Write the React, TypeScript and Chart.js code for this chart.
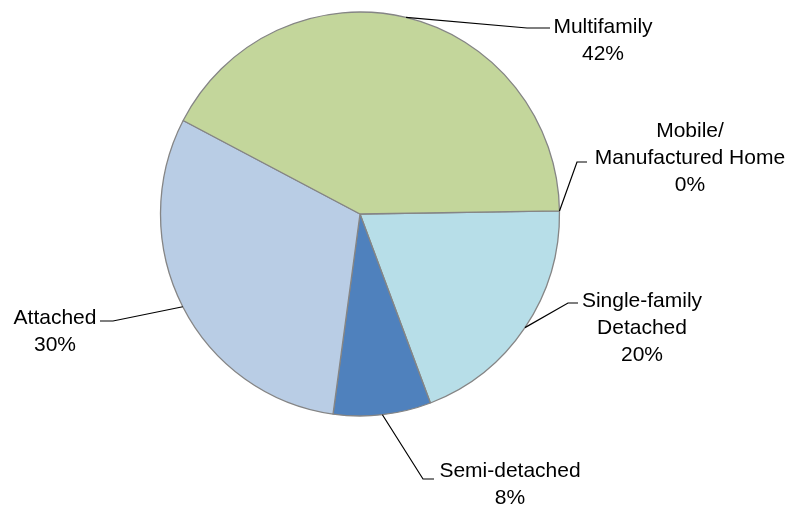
import React, { useEffect, useRef } from "react";
import { Chart, registerables } from "chart.js";

Chart.register(...registerables);

// Data
const categories = [
  "Mobile/ Manufactured Home",
  "Single-family Detached",
  "Semi-detached",
  "Attached",
  "Multifamily",
];
const categoryLines = [
  ["Mobile/", "Manufactured Home"],
  ["Single-family", "Detached"],
  ["Semi-detached"],
  ["Attached"],
  ["Multifamily"],
];
const values = [0, 19.5, 7.9, 30.5, 42.1];
const percentLabels = ["0%", "20%", "8%", "30%", "42%"];
const sliceColors = ["#FAC090", "#B7DEE8", "#4F81BD", "#B9CDE5", "#C3D69B"];

// Label layout (leader elbow, leader end, text centre x, first baseline y)
const labelLayout = [
  { elbow: [577, 162], end: [587, 162], tx: 690, ty: 137 },
  { elbow: [568, 303], end: [578, 303], tx: 642, ty: 307 },
  { elbow: [423, 479], end: [434, 479], tx: 510, ty: 477 },
  { elbow: [113, 321], end: [100, 321], tx: 55, ty: 324 },
  { elbow: [527, 28], end: [550, 28], tx: 603, ty: 33 },
];
const LINE_H = 27;
const FONT = "21px 'Liberation Sans', Arial, sans-serif";
const Y_STRETCH = 1.0125;

const stretchPlugin = {
  id: "stretch",
  beforeDatasetsDraw(chart: any) {
    const meta = chart.getDatasetMeta(0);
    const a = meta.data[0];
    if (!a) return;
    const ctx = chart.ctx;
    ctx.save();
    ctx.translate(0, a.y);
    ctx.scale(1, Y_STRETCH);
    ctx.translate(0, -a.y);
  },
  afterDatasetsDraw(chart: any) {
    chart.ctx.restore();
  },
};

const leaderPlugin = {
  id: "leaderLabels",
  afterDatasetsDraw(chart: any) {
    const ctx = chart.ctx;
    const meta = chart.getDatasetMeta(0);
    ctx.save();
    meta.data.forEach((arc: any, i: number) => {
      const p = arc.getProps(["x", "y", "startAngle", "endAngle", "outerRadius"], true);
      const mid = (p.startAngle + p.endAngle) / 2;
      const sx = p.x + p.outerRadius * Math.cos(mid);
      const sy = p.y + p.outerRadius * Math.sin(mid) * Y_STRETCH;
      const L = labelLayout[i];
      ctx.beginPath();
      ctx.strokeStyle = "#000";
      ctx.lineWidth = 1.2;
      ctx.moveTo(sx, sy);
      ctx.lineTo(L.elbow[0], L.elbow[1]);
      ctx.lineTo(L.end[0], L.end[1]);
      ctx.stroke();
      const lines = [...categoryLines[i], percentLabels[i]];
      ctx.fillStyle = "#000";
      ctx.font = FONT;
      ctx.textAlign = "center";
      ctx.textBaseline = "alphabetic";
      lines.forEach((t, k) => {
        ctx.fillText(t, L.tx, L.ty + k * LINE_H);
      });
    });
    ctx.restore();
  },
};

export default function App() {
  const ref = useRef<HTMLCanvasElement>(null);
  useEffect(() => {
    if (!ref.current) return;
    const chart = new Chart(ref.current, {
      type: "pie",
      data: {
        labels: categories,
        datasets: [
          {
            data: values,
            backgroundColor: sliceColors,
            borderColor: "#858585",
            borderWidth: 1.3,
          },
        ],
      },
      options: {
        responsive: false,
        animation: false,
        events: [],
        rotation: 89.13,
        radius: 199.5,
        layout: { padding: { left: 160, right: 233, top: 14, bottom: 92 } },
        plugins: {
          legend: { display: false },
          tooltip: { enabled: false },
          title: { display: false },
        },
      },
      plugins: [stretchPlugin, leaderPlugin],
    });
    return () => chart.destroy();
  }, []);
  return (
    <div style={{ position: "fixed", left: 0, top: 0, width: 793, height: 506, background: "#fff" }}>
      <canvas ref={ref} width={793} height={506} />
    </div>
  );
}
